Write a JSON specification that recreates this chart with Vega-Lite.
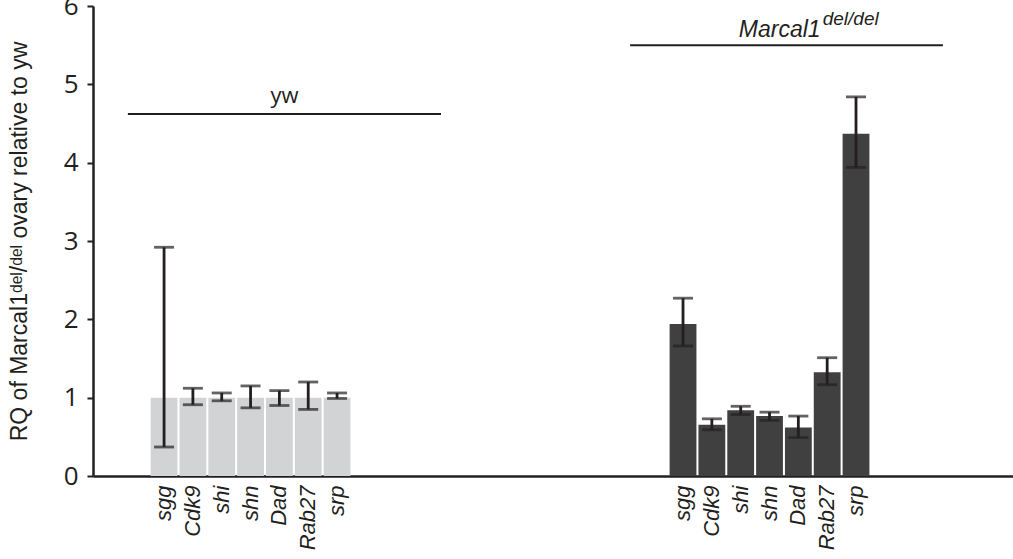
{
  "$schema": "https://vega.github.io/schema/vega-lite/v6.json",
  "autosize": {"type": "none"},
  "padding": {"left": 93, "top": 6, "right": 0, "bottom": 83},
  "width": 920,
  "height": 470,
  "background": "white",
  "config": {
    "view": {"stroke": null},
    "axis": {"domainColor": "#231f20", "tickColor": "#231f20", "labelColor": "#231f20", "titleColor": "#231f20", "grid": false}
  },
  "datasets": {
    "bars": [
      {"slot": "yw|sgg", "group": "yw", "gene": "sgg", "rq": 1.0, "lo": 0.37, "hi": 2.92},
      {"slot": "yw|Cdk9", "group": "yw", "gene": "Cdk9", "rq": 1.0, "lo": 0.91, "hi": 1.12},
      {"slot": "yw|shi", "group": "yw", "gene": "shi", "rq": 1.0, "lo": 0.96, "hi": 1.06},
      {"slot": "yw|shn", "group": "yw", "gene": "shn", "rq": 1.0, "lo": 0.87, "hi": 1.15},
      {"slot": "yw|Dad", "group": "yw", "gene": "Dad", "rq": 1.0, "lo": 0.90, "hi": 1.09},
      {"slot": "yw|Rab27", "group": "yw", "gene": "Rab27", "rq": 1.0, "lo": 0.85, "hi": 1.20},
      {"slot": "yw|srp", "group": "yw", "gene": "srp", "rq": 1.0, "lo": 0.99, "hi": 1.06},
      {"slot": "Marcal1|sgg", "group": "Marcal1", "gene": "sgg", "rq": 1.94, "lo": 1.66, "hi": 2.27},
      {"slot": "Marcal1|Cdk9", "group": "Marcal1", "gene": "Cdk9", "rq": 0.655, "lo": 0.59, "hi": 0.73},
      {"slot": "Marcal1|shi", "group": "Marcal1", "gene": "shi", "rq": 0.84, "lo": 0.785, "hi": 0.89},
      {"slot": "Marcal1|shn", "group": "Marcal1", "gene": "shn", "rq": 0.765, "lo": 0.71, "hi": 0.815},
      {"slot": "Marcal1|Dad", "group": "Marcal1", "gene": "Dad", "rq": 0.62, "lo": 0.49, "hi": 0.765},
      {"slot": "Marcal1|Rab27", "group": "Marcal1", "gene": "Rab27", "rq": 1.325, "lo": 1.165, "hi": 1.51},
      {"slot": "Marcal1|srp", "group": "Marcal1", "gene": "srp", "rq": 4.37, "lo": 3.94, "hi": 4.84}
    ],
    "groups": [
      {"label": "yw", "sup": "", "x0": 1.21, "x1": 12.07, "mid": 6.64, "y": 4.62},
      {"label": "Marcal1", "sup": "del/del", "x0": 18.63, "x1": 29.48, "mid": 24.06, "y": 5.5}
    ]
  },
  "layer": [
    {
      "data": {"name": "bars"},
      "encoding": {
        "x": {
          "field": "slot",
          "type": "nominal",
          "scale": {
            "domain": ["p00|", "p01|", "yw|sgg", "yw|Cdk9", "yw|shi", "yw|shn", "yw|Dad", "yw|Rab27", "yw|srp",
              "p09|", "p10|", "p11|", "p12|", "p13|", "p14|", "p15|", "p16|", "p17|", "p18|", "p19|",
              "Marcal1|sgg", "Marcal1|Cdk9", "Marcal1|shi", "Marcal1|shn", "Marcal1|Dad", "Marcal1|Rab27", "Marcal1|srp",
              "p27|", "p28|", "p29|", "p30|"],
            "paddingInner": 0.07,
            "paddingOuter": 0.49,
            "align": 0
          },
          "axis": {
            "title": null,
            "ticks": false,
            "labelAngle": 270,
            "labelExpr": "split(datum.value, '|')[1]",
            "labelFont": "Liberation Sans",
            "labelFontStyle": "italic",
            "labelFontSize": 22,
            "labelPadding": 9,
            "domainWidth": 2.5
          }
        }
      },
      "layer": [
        {
          "mark": {"type": "bar"},
          "encoding": {
            "y": {
              "field": "rq",
              "type": "quantitative",
              "scale": {"domain": [0, 6], "nice": false},
              "axis": {
                "values": [0, 1, 2, 3, 4, 5, 6],
                "format": "d",
                "title": "RQ of Marcal1ᵈᵉˡ/ᵈᵉˡ ovary relative to yw",
                "titleFont": "Liberation Sans",
                "titleFontWeight": "normal",
                "titleFontSize": 23,
                "titlePadding": 32,
                "labelFont": "Open Sans",
                "labelFontSize": 26,
                "labelPadding": 9,
                "tickSize": 6,
                "tickWidth": 2,
                "domainWidth": 2.5
              }
            },
            "color": {
              "field": "group",
              "type": "nominal",
              "scale": {"domain": ["yw", "Marcal1"], "range": ["#d1d3d4", "#404040"]},
              "legend": null
            }
          }
        },
        {
          "mark": {"type": "rule", "color": "#231f20", "strokeWidth": 2.8},
          "encoding": {
            "y": {"field": "lo", "type": "quantitative"},
            "y2": {"field": "hi"}
          }
        },
        {
          "mark": {"type": "tick", "color": "#231f20", "size": 20, "thickness": 2.8, "orient": "horizontal"},
          "encoding": {"y": {"field": "lo", "type": "quantitative"}}
        },
        {
          "mark": {"type": "tick", "color": "#231f20", "size": 20, "thickness": 2.8, "orient": "horizontal"},
          "encoding": {"y": {"field": "hi", "type": "quantitative"}}
        }
      ]
    },
    {
      "data": {"name": "groups"},
      "layer": [
        {
          "mark": {"type": "rule", "color": "#231f20", "strokeWidth": 2},
          "encoding": {
            "x": {"field": "x0", "type": "quantitative", "scale": {"domain": [0, 31.91], "nice": false, "zero": false}, "axis": null},
            "x2": {"field": "x1"},
            "y": {"field": "y", "type": "quantitative"}
          }
        },
        {
          "transform": [{"filter": "datum.label == 'yw'"}],
          "mark": {"type": "text", "font": "Open Sans", "fontSize": 22, "color": "#231f20", "align": "center", "baseline": "alphabetic", "dy": -11},
          "encoding": {
            "x": {"field": "mid", "type": "quantitative", "axis": null},
            "y": {"field": "y", "type": "quantitative"},
            "text": {"field": "label"}
          }
        },
        {
          "transform": [{"filter": "datum.label == 'Marcal1'"}],
          "mark": {"type": "text", "font": "Liberation Sans", "fontStyle": "italic", "fontSize": 23, "color": "#231f20", "align": "right", "baseline": "alphabetic", "dx": 34, "dy": -8},
          "encoding": {
            "x": {"field": "mid", "type": "quantitative", "axis": null},
            "y": {"field": "y", "type": "quantitative"},
            "text": {"field": "label"}
          }
        },
        {
          "transform": [{"filter": "datum.label == 'Marcal1'"}],
          "mark": {"type": "text", "font": "Liberation Sans", "fontStyle": "italic", "fontSize": 19, "color": "#231f20", "align": "left", "baseline": "alphabetic", "dx": 36, "dy": -20},
          "encoding": {
            "x": {"field": "mid", "type": "quantitative", "axis": null},
            "y": {"field": "y", "type": "quantitative"},
            "text": {"field": "sup"}
          }
        }
      ]
    }
  ],
  "resolve": {"scale": {"x": "independent"}, "axis": {"x": "independent"}}
}
